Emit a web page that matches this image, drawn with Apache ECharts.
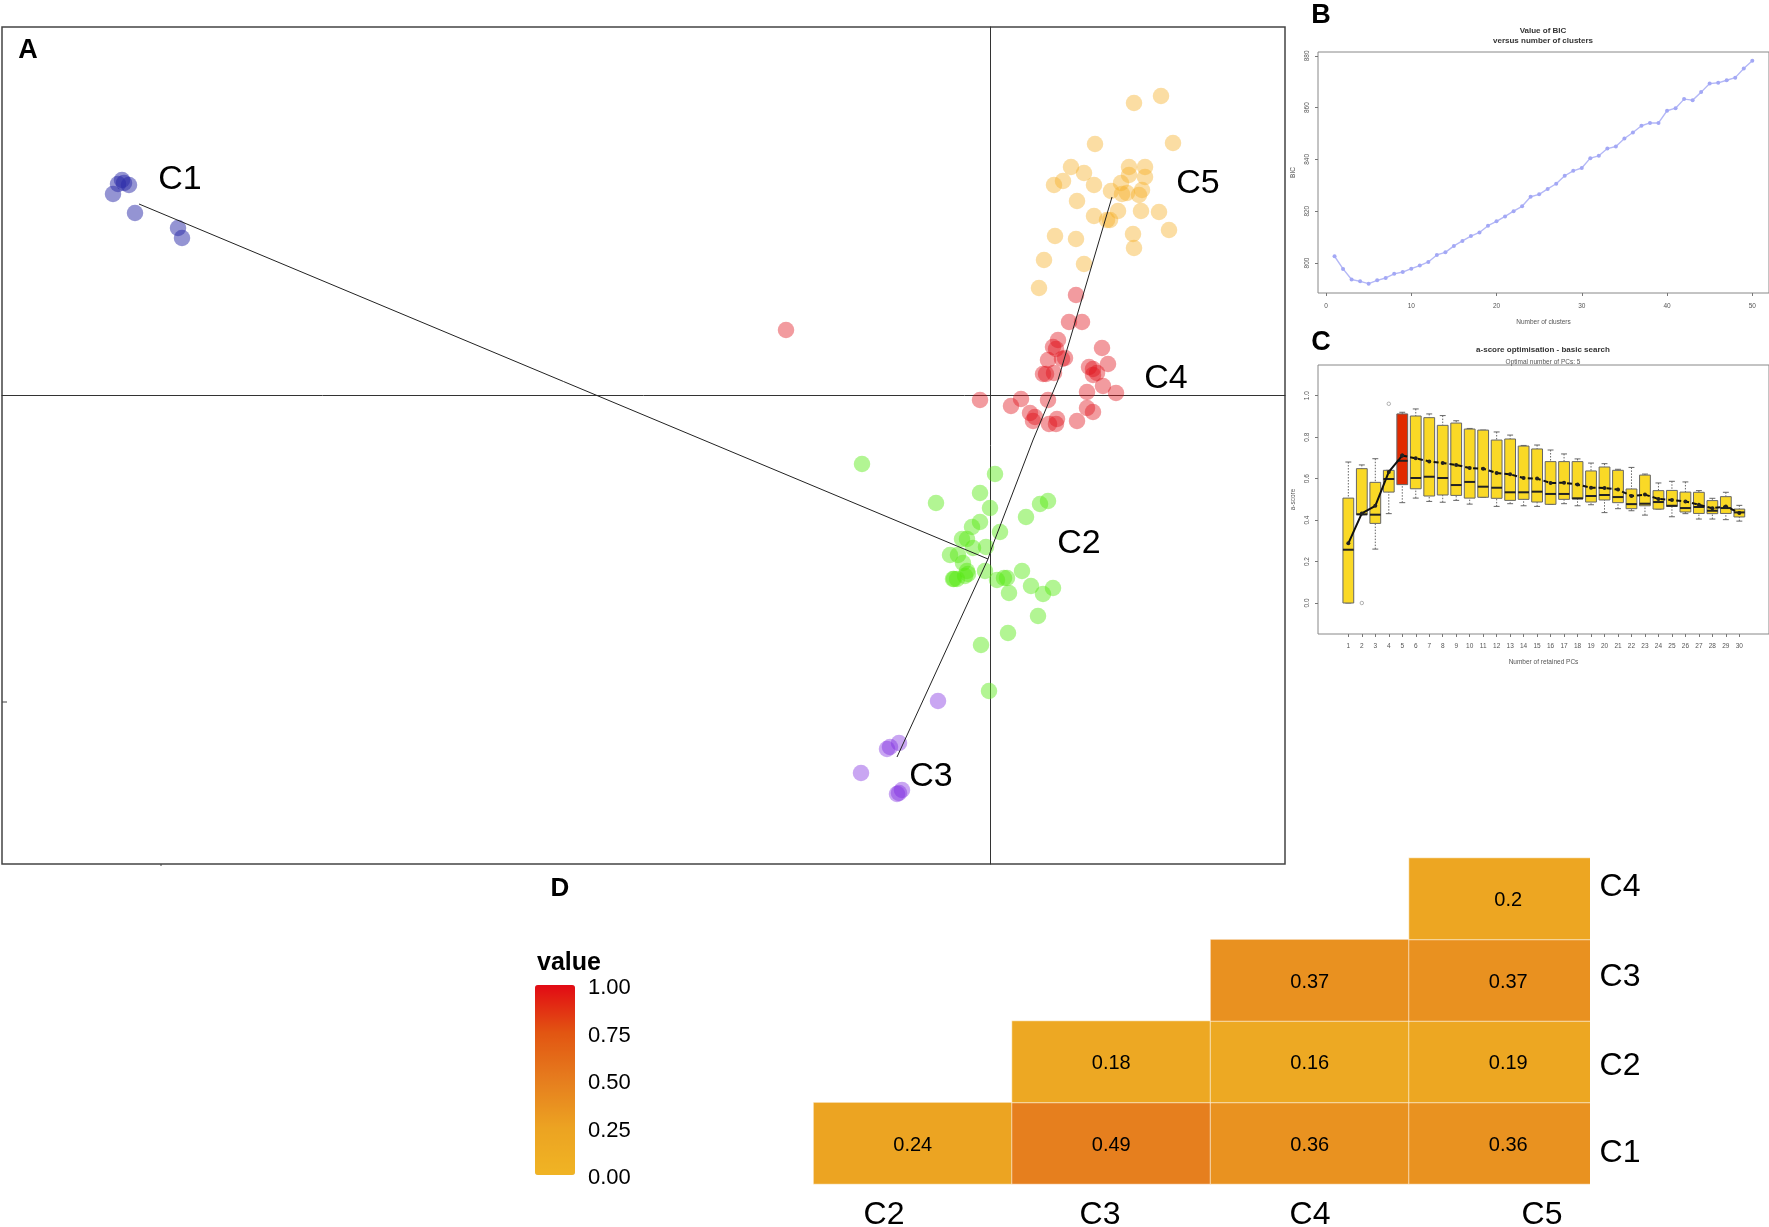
<!DOCTYPE html>
<html>
<head>
<meta charset="utf-8">
<title>clusters</title>
<script src="https://cdn.jsdelivr.net/npm/echarts@6/dist/echarts.min.js"></script>
<style>
    html, body { margin: 0; padding: 0; background: #fff; }
    #chart { width: 1769px; height: 1227px; }
</style>
</head>
<body>
<div id="chart"></div>
<script>
// panel A, discriminant space: first and second component
const c1Points = [[-86.8, 21.5], [-86.1, 21.0], [-87.2, 21.1], [-86.6, 21.2], [-87.7, 20.1], [-85.5, 18.2], [-81.2, 16.7], [-80.8, 15.7]];
const c2Points = [[-12.8, -6.9], [0.5, -7.9], [-1.0, -9.8], [-5.4, -10.8], [0, -11.3], [5.8, -10.6], [5.0, -10.9], [3.6, -12.2], [-1.0, -12.7],
    [-1.8, -13.2], [1.0, -13.7], [-2.8, -14.4], [-2.3, -14.4], [-1.7, -15.3], [-0.4, -15.2], [-4.0, -16.0], [-3.2, -16.0], [-2.7, -16.8],
    [-0.5, -17.6], [3.2, -17.6], [-2.3, -17.6], [-2.2, -17.9], [-2.5, -18.1], [-3.3, -18.4], [-3.6, -18.4], [-3.7, -18.4], [0.7, -18.5],
    [1.4, -18.3], [1.7, -18.3], [4.1, -19.1], [6.3, -19.3], [5.3, -19.9], [1.9, -19.8], [4.8, -22.1], [1.8, -23.8], [-0.9, -25.0], [-0.1, -29.6]];
const c3Points = [[-5.2, -30.6], [-9.1, -34.8], [-10.0, -35.2], [-10.3, -35.4], [-12.9, -37.8], [-8.8, -39.5], [-9.1, -39.8], [-9.3, -39.9]];
const c4Points = [[8.6, 10.0], [7.9, 7.3], [9.2, 7.3], [6.8, 5.5], [11.2, 4.7], [6.3, 4.8], [6.6, 4.6], [7.5, 3.7], [7.2, 3.6], [5.8, 3.5],
    [11.8, 3.1], [9.9, 2.8], [10.3, 2.6], [10.7, 2.2], [10.3, 2.0], [6.4, 2.2], [5.6, 2.1], [5.3, 2.1], [11.3, 0.9], [9.7, 0.3], [12.6, 0.2],
    [5.8, -0.5], [3.1, -0.4], [-1.0, -0.5], [2.1, -1.1], [9.7, -1.3], [10.3, -1.7], [4.0, -1.8], [4.5, -2.2], [4.3, -2.6], [6.7, -2.4],
    [5.9, -2.9], [6.6, -2.9], [8.7, -2.6], [-20.4, 6.5]];
const c5Points = [[17.1, 29.9], [14.4, 29.2], [18.3, 25.2], [10.5, 25.1], [8.1, 22.8], [13.9, 22.8], [15.5, 22.8], [9.4, 22.2], [13.9, 22.0],
    [15.5, 21.8], [7.3, 21.4], [6.4, 21.0], [10.4, 21.0], [13.1, 21.2], [15.2, 20.5], [12.1, 20.4], [13.7, 20.2], [13.2, 20.1], [14.9, 20.0],
    [8.7, 19.4], [12.8, 18.4], [15.1, 18.4], [16.9, 18.3], [10.4, 17.9], [11.7, 17.5], [12.0, 17.5], [17.9, 16.5], [14.3, 16.1], [6.5, 15.9],
    [8.6, 15.6], [14.4, 14.7], [5.4, 13.5], [9.4, 13.1], [4.9, 10.7]];
const treeC1 = [[-85.1, 19.1], [-0.2, -16.4]];
const treeC3 = [[-0.2, -16.4], [-9.3, -36.2]];
const treeC5 = [[-0.2, -16.4], [0.2, -15.2], [4.3, -4.5], [6.8, 1.5], [12.2, 19.8]];

// panel B
const bicClusters = [];
for (let i = 1; i <= 50; i++) bicClusters.push(i);
const bicValues = [802.6, 797.7, 793.6, 792.9, 792.0, 793.3, 794.2, 795.8, 796.5, 797.8,
    799.0, 800.4, 803.1, 804.1, 806.6, 808.5, 810.4, 811.8, 814.4, 816.1,
    818.0, 820.0, 821.9, 825.6, 826.5, 828.6, 830.6, 833.7, 835.6, 836.7,
    840.5, 841.4, 844.2, 845.0, 848.1, 850.4, 853.0, 854.1, 854.1, 858.8,
    859.8, 863.3, 862.9, 866.0, 869.3, 869.6, 870.6, 871.6, 875.1, 878.1];

// panel C, one entry per number of retained PCs
const pcCounts = [];
for (let i = 1; i <= 30; i++) pcCounts.push(i);
const whiskerLow = [0, 0.426, 0.26, 0.431, 0.484, 0.506, 0.49, 0.486, 0.495, 0.477, 0.51, 0.466, 0.479, 0.469, 0.466,
    0.476, 0.479, 0.469, 0.474, 0.436, 0.455, 0.445, 0.424, 0.453, 0.416, 0.431, 0.405, 0.405, 0.402, 0.395];
const q1Values = [0, 0.426, 0.384, 0.535, 0.571, 0.551, 0.516, 0.521, 0.519, 0.506, 0.51, 0.505, 0.495, 0.5, 0.487,
    0.476, 0.5, 0.502, 0.487, 0.497, 0.484, 0.455, 0.469, 0.453, 0.466, 0.439, 0.432, 0.431, 0.432, 0.415];
const medianValues = [0.257, 0.428, 0.426, 0.598, 0.686, 0.603, 0.609, 0.603, 0.569, 0.584, 0.561, 0.556, 0.534, 0.534, 0.537,
    0.526, 0.526, 0.505, 0.516, 0.521, 0.511, 0.477, 0.479, 0.487, 0.469, 0.458, 0.463, 0.445, 0.458, 0.437];
const q3Values = [0.506, 0.648, 0.582, 0.64, 0.912, 0.902, 0.894, 0.857, 0.868, 0.839, 0.834, 0.786, 0.791, 0.757, 0.743,
    0.682, 0.682, 0.682, 0.637, 0.656, 0.64, 0.55, 0.617, 0.542, 0.543, 0.535, 0.534, 0.494, 0.513, 0.453];
const whiskerHigh = [0.68, 0.666, 0.696, 0.64, 0.92, 0.936, 0.912, 0.904, 0.879, 0.842, 0.834, 0.825, 0.81, 0.76, 0.762,
    0.738, 0.719, 0.695, 0.675, 0.672, 0.645, 0.654, 0.622, 0.579, 0.587, 0.584, 0.542, 0.505, 0.534, 0.471];
const meanValues = [0.288, 0.432, 0.469, 0.632, 0.711, 0.698, 0.683, 0.675, 0.666, 0.651, 0.648, 0.627, 0.621, 0.603, 0.6,
    0.579, 0.58, 0.571, 0.556, 0.555, 0.547, 0.516, 0.523, 0.502, 0.497, 0.49, 0.474, 0.457, 0.466, 0.434];
const boxOutliers = [[2, 0], [4, 0.961]];
const bestPc = 5;

// panel D
const heatColumns = ['C2', 'C3', 'C4', 'C5'];
const heatRows = ['C1', 'C2', 'C3', 'C4'];
const heatCells = [['C2', 'C1', 0.24], ['C3', 'C1', 0.49], ['C4', 'C1', 0.36], ['C5', 'C1', 0.36],
    ['C3', 'C2', 0.18], ['C4', 'C2', 0.16], ['C5', 'C2', 0.19],
    ['C4', 'C3', 0.37], ['C5', 'C3', 0.37],
    ['C5', 'C4', 0.2]];
const heatColors = ['#F0B424', '#ECA322', '#E67D1E', '#E25512', '#E20A14'];

const fontName = '"Liberation Sans", Arial, sans-serif';

const textItem = (text, x, y, fontSize, fontWeight, fill) => ({
    type: 'text',
    x: x,
    y: y,
    z: 20,
    style: {
        text: text,
        fontSize: fontSize,
        fontWeight: fontWeight || 'normal',
        fontFamily: fontName,
        fill: fill || '#000',
        align: 'center',
        verticalAlign: 'middle'
    }
});

const clusterScatter = (points, color, opacity) => ({
    type: 'scatter',
    xAxisIndex: 0,
    yAxisIndex: 0,
    data: points,
    symbolSize: 16.5,
    itemStyle: { color: color, opacity: opacity },
    z: 2
});

const treeLine = points => ({
    type: 'line',
    xAxisIndex: 0,
    yAxisIndex: 0,
    data: points,
    showSymbol: false,
    lineStyle: { color: '#222', width: 1 },
    z: 3
});

const renderBox = (params, api) => {
    const x = api.value(0);
    const low = api.coord([x, api.value(1)]);
    const q1 = api.coord([x, api.value(2)]);
    const med = api.coord([x, api.value(3)]);
    const q3 = api.coord([x, api.value(4)]);
    const high = api.coord([x, api.value(5)]);
    const halfBox = api.size([0.8, 0])[0] / 2;
    const halfCap = halfBox * 0.55;
    const isBest = x === bestPc;
    const whisker = { stroke: '#666', lineWidth: 1, lineDash: [1.5, 1.5] };
    const cap = { stroke: '#666', lineWidth: 1 };
    return {
        type: 'group',
        children: [
            { type: 'line', shape: { x1: high[0], y1: high[1], x2: high[0], y2: q3[1] }, style: whisker },
            { type: 'line', shape: { x1: low[0], y1: low[1], x2: low[0], y2: q1[1] }, style: whisker },
            { type: 'line', shape: { x1: high[0] - halfCap, y1: high[1], x2: high[0] + halfCap, y2: high[1] }, style: cap },
            { type: 'line', shape: { x1: low[0] - halfCap, y1: low[1], x2: low[0] + halfCap, y2: low[1] }, style: cap },
            {
                type: 'rect',
                shape: { x: q3[0] - halfBox, y: q3[1], width: halfBox * 2, height: q1[1] - q3[1] },
                style: { fill: isBest ? '#E12A00' : '#FAD926', stroke: '#666', lineWidth: 1 }
            },
            {
                type: 'line',
                shape: { x1: med[0] - halfBox, y1: med[1], x2: med[0] + halfBox, y2: med[1] },
                style: { stroke: '#222', lineWidth: 2 }
            }
        ]
    };
};

const tinyLabel = { fontSize: 6.5, color: '#555', fontFamily: fontName };
const frameStyle = { show: true, borderColor: '#888', borderWidth: 1, backgroundColor: '#fff' };
const hiddenLine = { show: false, onZero: false };

const option = {
    animation: false,
    backgroundColor: '#fff',
    textStyle: { fontFamily: fontName },
    grid: [
        { left: 2, top: 27, width: 1283, height: 837, show: true, borderColor: '#444', borderWidth: 1.5 },
        Object.assign({ left: 1318, top: 52, width: 451, height: 241 }, frameStyle),
        Object.assign({ left: 1318, top: 365, width: 451, height: 269 }, frameStyle),
        // the last column is cropped by the white strip in graphic, as in the figure
        { left: 813.5, top: 858, width: 794, height: 326 },
        { left: 535, top: 985, width: 40, height: 190 }
    ],
    xAxis: [
        {
            gridIndex: 0, type: 'value', min: -98.8, max: 29.5,
            splitLine: { show: false }, axisTick: { show: false }, axisLabel: { show: false },
            axisLine: { show: true, onZero: true, lineStyle: { color: '#333', width: 1 } }
        },
        {
            gridIndex: 1, type: 'value', min: -0.94, max: 51.96, name: 'Number of clusters',
            nameLocation: 'middle', nameGap: 26, nameTextStyle: tinyLabel,
            splitLine: { show: false }, axisLine: hiddenLine,
            axisTick: { length: 3, customValues: [0, 10, 20, 30, 40, 50], lineStyle: { color: '#777' } },
            axisLabel: Object.assign({ margin: 10, customValues: [0, 10, 20, 30, 40, 50] }, tinyLabel)
        },
        {
            gridIndex: 2, type: 'value', min: -1.25, max: 32.2, name: 'Number of retained PCs',
            nameLocation: 'middle', nameGap: 25, nameTextStyle: tinyLabel,
            splitLine: { show: false }, axisLine: hiddenLine,
            axisTick: { length: 3, customValues: pcCounts, lineStyle: { color: '#777' } },
            axisLabel: Object.assign({ margin: 9, hideOverlap: false, customValues: pcCounts }, tinyLabel)
        },
        {
            gridIndex: 3, type: 'category', data: heatColumns, offset: 7,
            splitArea: { show: false }, axisLine: { show: false }, axisLabel: { show: false },
            axisTick: { alignWithLabel: true, length: 1.5, lineStyle: { color: '#555' } }
        },
        { gridIndex: 4, type: 'category', data: [''], show: false }
    ],
    yAxis: [
        {
            gridIndex: 0, type: 'value', min: -46.9, max: 36.8,
            splitLine: { show: false }, axisTick: { show: false }, axisLabel: { show: false },
            axisLine: { show: true, onZero: true, lineStyle: { color: '#333', width: 1 } }
        },
        {
            gridIndex: 1, type: 'value', min: 788.4, max: 881.5, name: 'BIC',
            nameLocation: 'middle', nameGap: 21, nameRotate: 90, nameTextStyle: tinyLabel,
            splitLine: { show: false }, axisLine: hiddenLine,
            axisTick: { length: 3, customValues: [800, 820, 840, 860, 880], lineStyle: { color: '#777' } },
            axisLabel: Object.assign({ rotate: 90, margin: 7, customValues: [800, 820, 840, 860, 880] }, tinyLabel)
        },
        {
            gridIndex: 2, type: 'value', min: -0.1495, max: 1.148, name: 'a-score',
            nameLocation: 'middle', nameGap: 21, nameRotate: 90, nameTextStyle: tinyLabel,
            splitLine: { show: false }, axisLine: hiddenLine,
            axisTick: { length: 3, customValues: [0, 0.2, 0.4, 0.6, 0.8, 1], lineStyle: { color: '#777' } },
            axisLabel: Object.assign({
                rotate: 90, margin: 7, customValues: [0, 0.2, 0.4, 0.6, 0.8, 1],
                formatter: v => v.toFixed(1)
            }, tinyLabel)
        },
        {
            gridIndex: 3, type: 'category', data: heatRows, offset: 19,
            splitArea: { show: false }, axisLine: { show: false }, axisLabel: { show: false },
            axisTick: { alignWithLabel: true, length: 1.5, lineStyle: { color: '#555' } }
        },
        {
            gridIndex: 4, type: 'value', position: 'right', min: 0, max: 1, interval: 0.25, zlevel: 1,
            splitLine: { show: false }, axisLine: hiddenLine,
            axisTick: { inside: true, length: 8, lineStyle: { color: '#fff', opacity: 0.9 } },
            axisLabel: {
                margin: 13,
                formatter: v => '{t|' + v.toFixed(2) + '}',
                rich: { t: { fontSize: 22, color: '#000', fontFamily: fontName, padding: [6, 0, 0, 0] } }
            }
        },
        {
            gridIndex: 4, type: 'value', position: 'left', min: 0, max: 1, interval: 0.25, zlevel: 1,
            splitLine: { show: false }, axisLine: hiddenLine, axisLabel: { show: false },
            axisTick: { inside: true, length: 8, lineStyle: { color: '#fff', opacity: 0.9 } }
        }
    ],
    visualMap: {
        type: 'continuous',
        seriesIndex: 13,
        min: 0,
        max: 1,
        dimension: 2,
        left: 535,
        top: 985,
        itemWidth: 40,
        itemHeight: 190,
        padding: 0,
        calculable: false,
        hoverLink: false,
        text: null,
        showLabel: false,
        inRange: { color: heatColors }
    },
    series: [
        clusterScatter(c1Points, '#2A2AA8', 0.5),
        clusterScatter(c2Points, '#55E810', 0.45),
        clusterScatter(c3Points, '#7F2CE0', 0.42),
        clusterScatter(c4Points, '#E0101A', 0.42),
        clusterScatter(c5Points, '#F5AE23', 0.42),
        treeLine(treeC1),
        treeLine(treeC3),
        treeLine(treeC5),
        {
            type: 'line',
            xAxisIndex: 1,
            yAxisIndex: 1,
            data: bicClusters.map((n, i) => [n, bicValues[i]]),
            symbol: 'circle',
            symbolSize: 4,
            itemStyle: { color: '#A3A8F5' },
            lineStyle: { color: '#B4B8F6', width: 1.4 }
        },
        {
            type: 'custom',
            xAxisIndex: 2,
            yAxisIndex: 2,
            renderItem: renderBox,
            encode: { x: 0, y: [1, 5] },
            data: pcCounts.map((n, i) => [n, whiskerLow[i], q1Values[i], medianValues[i], q3Values[i], whiskerHigh[i]]),
            z: 2
        },
        {
            type: 'scatter',
            xAxisIndex: 2,
            yAxisIndex: 2,
            data: boxOutliers,
            symbolSize: 3.5,
            itemStyle: { color: '#fff', borderColor: '#888', borderWidth: 0.8 },
            z: 3
        },
        {
            type: 'line',
            xAxisIndex: 2,
            yAxisIndex: 2,
            data: pcCounts.slice(0, bestPc).map((n, i) => [n, meanValues[i]]),
            symbol: 'circle',
            symbolSize: 4,
            itemStyle: { color: '#222' },
            lineStyle: { color: '#111', width: 2 },
            z: 4
        },
        {
            type: 'line',
            xAxisIndex: 2,
            yAxisIndex: 2,
            data: pcCounts.map((n, i) => [n, meanValues[i]]).slice(bestPc - 1),
            symbol: 'circle',
            symbolSize: 4,
            itemStyle: { color: '#222' },
            lineStyle: { color: '#111', width: 2, type: [5, 3] },
            z: 4
        },
        {
            type: 'heatmap',
            xAxisIndex: 3,
            yAxisIndex: 3,
            data: heatCells,
            label: { show: true, fontSize: 20, color: '#000', offset: [0, 2], formatter: p => p.value[2] },
            itemStyle: { borderColor: 'rgba(255,255,255,0.6)', borderWidth: 1 }
        }
    ],
    graphic: [
        { type: 'rect', shape: { x: 1590, y: 850, width: 30, height: 340 }, style: { fill: '#fff' }, z: 10 },
        { type: 'line', shape: { x1: 2, y1: 702, x2: 7, y2: 702 }, style: { stroke: '#444', lineWidth: 1 }, z: 10 },
        { type: 'line', shape: { x1: 161, y1: 864, x2: 161, y2: 866 }, style: { stroke: '#444', lineWidth: 1 }, z: 10 },
        textItem('A', 28, 51, 27, 'bold'),
        textItem('B', 1321, 16, 27, 'bold'),
        textItem('C', 1321, 343, 27, 'bold'),
        textItem('D', 560, 889, 26, 'bold'),
        textItem('C1', 180, 180, 34),
        textItem('C2', 1079, 544, 34),
        textItem('C3', 931, 777, 34),
        textItem('C4', 1166, 379, 34),
        textItem('C5', 1198, 184, 34),
        textItem('Value of BIC', 1543, 31, 8, 'bold', '#333'),
        textItem('versus number of clusters', 1543, 41, 8, 'bold', '#333'),
        textItem('a-score optimisation - basic search', 1543, 350, 8, 'bold', '#333'),
        textItem('Optimal number of PCs: 5', 1543, 362, 6.5, 'normal', '#555'),
        textItem('value', 569, 963, 25, 'bold'),
        textItem('C2', 884, 1215, 32),
        textItem('C3', 1100, 1215, 32),
        textItem('C4', 1310, 1215, 32),
        textItem('C5', 1542, 1215, 32),
        textItem('C4', 1620, 887, 32),
        textItem('C3', 1620, 977, 32),
        textItem('C2', 1620, 1066, 32),
        textItem('C1', 1620, 1153, 32)
    ]
};

const chart = echarts.init(document.getElementById('chart'), null, { renderer: 'canvas' });
chart.setOption(option);
</script>
</body>
</html>
